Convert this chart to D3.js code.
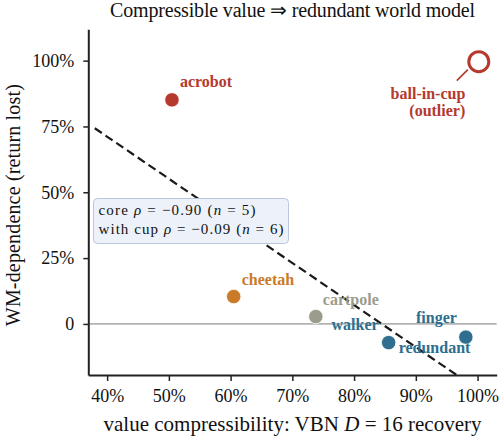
<!DOCTYPE html>
<html><head><meta charset="utf-8">
<script src="https://cdn.jsdelivr.net/npm/d3@7"></script>
<style>
html,body{margin:0;padding:0;background:#fff;}
svg{display:block;font-family:"Liberation Serif","Times New Roman",serif;}
</style></head>
<body>
<svg id="chart" width="503" height="444"></svg>
<script>
// ---- data ----
const tasks   = ["acrobot", "ball-in-cup", "cheetah", "cartpole", "walker", "finger"];
const vbnRecovery = [50.5, 100.2, 60.5, 73.8, 85.6, 98.1];   // x, %
const wmDependence = [85.1, 99.6, 10.4, 2.8, -7.1, -5.0];    // y, %
const isOutlier = [false, true, false, false, false, false];
const xTicks = [40, 50, 60, 70, 80, 90, 100];
const xTickLabels = ["40%", "50%", "60%", "70%", "80%", "90%", "100%"];
const yTicks = [0, 25, 50, 75, 100];
const yTickLabels = ["0", "25%", "50%", "75%", "100%"];
const statsLines = [
  ["core ", "ρ", " = −0.90 (", "n", " = 5)"],
  ["with cup ", "ρ", " = −0.09 (", "n", " = 6)"]
];

// ---- style ----
const colors = {"acrobot":"#b5392d","ball-in-cup":"#b5392d","cheetah":"#c97b2a","cartpole":"#9c9c8c","walker":"#2e6e8e","finger":"#2e6e8e"};
const labelPos = { // pixel offsets, anchor
  "acrobot":[8,-13,"start"], "cheetah":[8,-12,"start"], "cartpole":[7,-12,"start"],
  "walker":[-10,-13,"end"], "finger":[-9,-14,"end"]
};
const statsLen = [157, 185];

const svg = d3.select("#chart");
const L = 88.3, R = 496.7, T = 29.3, B = 375;
const x = d3.scaleLinear().domain([36.95, 103.1]).range([L, R]);
const y = d3.scaleLinear().domain([-19.4, 111.9]).range([B, T]);

svg.append("defs").append("clipPath").attr("id","clip")
  .append("rect").attr("x",L).attr("y",T).attr("width",R-L).attr("height",B-T);

// zero line
svg.append("line").attr("x1",L).attr("x2",R).attr("y1",y(0)).attr("y2",y(0))
  .attr("stroke","#b3b3b3").attr("stroke-width",1.6);

// regression line on core points
const core = d3.range(tasks.length).filter(i => !isOutlier[i]);
const mx = d3.mean(core, i => vbnRecovery[i]), my = d3.mean(core, i => wmDependence[i]);
const sxy = d3.sum(core, i => (vbnRecovery[i]-mx)*(wmDependence[i]-my));
const sxx = d3.sum(core, i => (vbnRecovery[i]-mx)**2);
const slope = sxy/sxx, icpt = my - slope*mx;
const fitX = [38, 105];
svg.append("line").attr("clip-path","url(#clip)")
  .attr("x1",x(fitX[0])).attr("y1",y(icpt+slope*fitX[0]))
  .attr("x2",x(fitX[1])).attr("y2",y(icpt+slope*fitX[1]))
  .attr("stroke","#1a1a1a").attr("stroke-width",2.2).attr("stroke-dasharray","8.5,4.5");

// stats box
const box = svg.append("g");
box.append("rect").attr("x",93.5).attr("y",198.5).attr("width",195).attr("height",45).attr("rx",4)
  .attr("fill","#edf1f9").attr("stroke","#b9c6de").attr("stroke-width",1);
statsLines.forEach((parts, li) => {
  const t = box.append("text").attr("x",98.5).attr("y",215 + li*18.5).attr("font-size",15)
    .attr("fill","#111").attr("textLength",statsLen[li]).attr("lengthAdjust","spacing");
  parts.forEach((p, pi) => t.append("tspan").text(p).attr("font-style", (pi===1||pi===3) ? "italic" : null));
});

// points
const pts = svg.append("g");
tasks.forEach((t, i) => {
  const cx = x(vbnRecovery[i]), cy = y(wmDependence[i]);
  if (isOutlier[i]) {
    pts.append("circle").attr("cx",cx).attr("cy",cy).attr("r",10)
      .attr("fill","#fff").attr("stroke",colors[t]).attr("stroke-width",3);
  } else {
    pts.append("circle").attr("cx",cx).attr("cy",cy).attr("r",7.2)
      .attr("fill",colors[t]).attr("stroke","#fff").attr("stroke-width",0.8);
  }
});

// labels
tasks.forEach((t, i) => {
  if (isOutlier[i]) return;
  const cx = x(vbnRecovery[i]), cy = y(wmDependence[i]);
  const [dx, dy, anc] = labelPos[t];
  svg.append("text").attr("x",cx+dx).attr("y",cy+dy).attr("text-anchor",anc)
    .attr("font-size",16).attr("font-weight","bold").attr("fill",colors[t]).text(t);
});
// "redundant" group label near walker/finger
{
  const wi = tasks.indexOf("walker");
  svg.append("text").attr("x",x(vbnRecovery[wi])+10).attr("y",y(wmDependence[wi])+10)
    .attr("font-size",16).attr("font-weight","bold").attr("fill",colors["walker"]).text("redundant");
}
// outlier annotation
{
  const oi = tasks.indexOf("ball-in-cup");
  const cx = x(vbnRecovery[oi]), cy = y(wmDependence[oi]);
  svg.append("line").attr("x1",cx-22).attr("y1",cy+19).attr("x2",cx-11).attr("y2",cy+8)
    .attr("stroke",colors["ball-in-cup"]).attr("stroke-width",1.6);
  const tx = cx-13.5;
  svg.append("text").attr("x",tx).attr("y",cy+37).attr("text-anchor","end")
    .attr("font-size",16).attr("font-weight","bold").attr("fill",colors["ball-in-cup"]).text("ball-in-cup");
  svg.append("text").attr("x",tx).attr("y",cy+54).attr("text-anchor","end")
    .attr("font-size",16).attr("font-weight","bold").attr("fill",colors["ball-in-cup"]).text("(outlier)");
}

// axes
const xAxis = d3.axisBottom(x).tickValues(xTicks).tickFormat((d,i)=>xTickLabels[i]).tickSize(6).tickSizeOuter(0).tickPadding(8);
const yAxis = d3.axisLeft(y).tickValues(yTicks).tickFormat((d,i)=>yTickLabels[i]).tickSize(5).tickSizeOuter(0).tickPadding(9);
const gx = svg.append("g").attr("transform",`translate(0,${B})`).call(xAxis);
const gy = svg.append("g").attr("transform",`translate(${L},0)`).call(yAxis);
[gx, gy].forEach(g => {
  g.select(".domain").attr("stroke","#222").attr("stroke-width",2);
  g.selectAll(".tick line").attr("stroke","#222").attr("stroke-width",1.5);
  g.selectAll(".tick text").attr("font-family","Liberation Serif, serif").attr("font-size",18).attr("fill","#111");
});

// titles
svg.append("text").attr("x",(L+R)/2).attr("y",17).attr("text-anchor","middle")
  .attr("font-size",20).attr("fill","#111").attr("textLength",365).attr("lengthAdjust","spacing")
  .text("Compressible value ⇒ redundant world model");
const xl = svg.append("text").attr("x",(L+R)/2).attr("y",431).attr("text-anchor","middle")
  .attr("font-size",21).attr("fill","#111").attr("textLength",378).attr("lengthAdjust","spacing");
xl.append("tspan").text("value compressibility: VBN ");
xl.append("tspan").attr("font-style","italic").text("D");
xl.append("tspan").text(" = 16 recovery");
svg.append("text").attr("transform",`translate(20,${(T+B)/2+3}) rotate(-90)`).attr("text-anchor","middle")
  .attr("font-size",20).attr("fill","#111").attr("textLength",242).attr("lengthAdjust","spacing")
  .text("WM-dependence (return lost)");
</script>
</body></html>
